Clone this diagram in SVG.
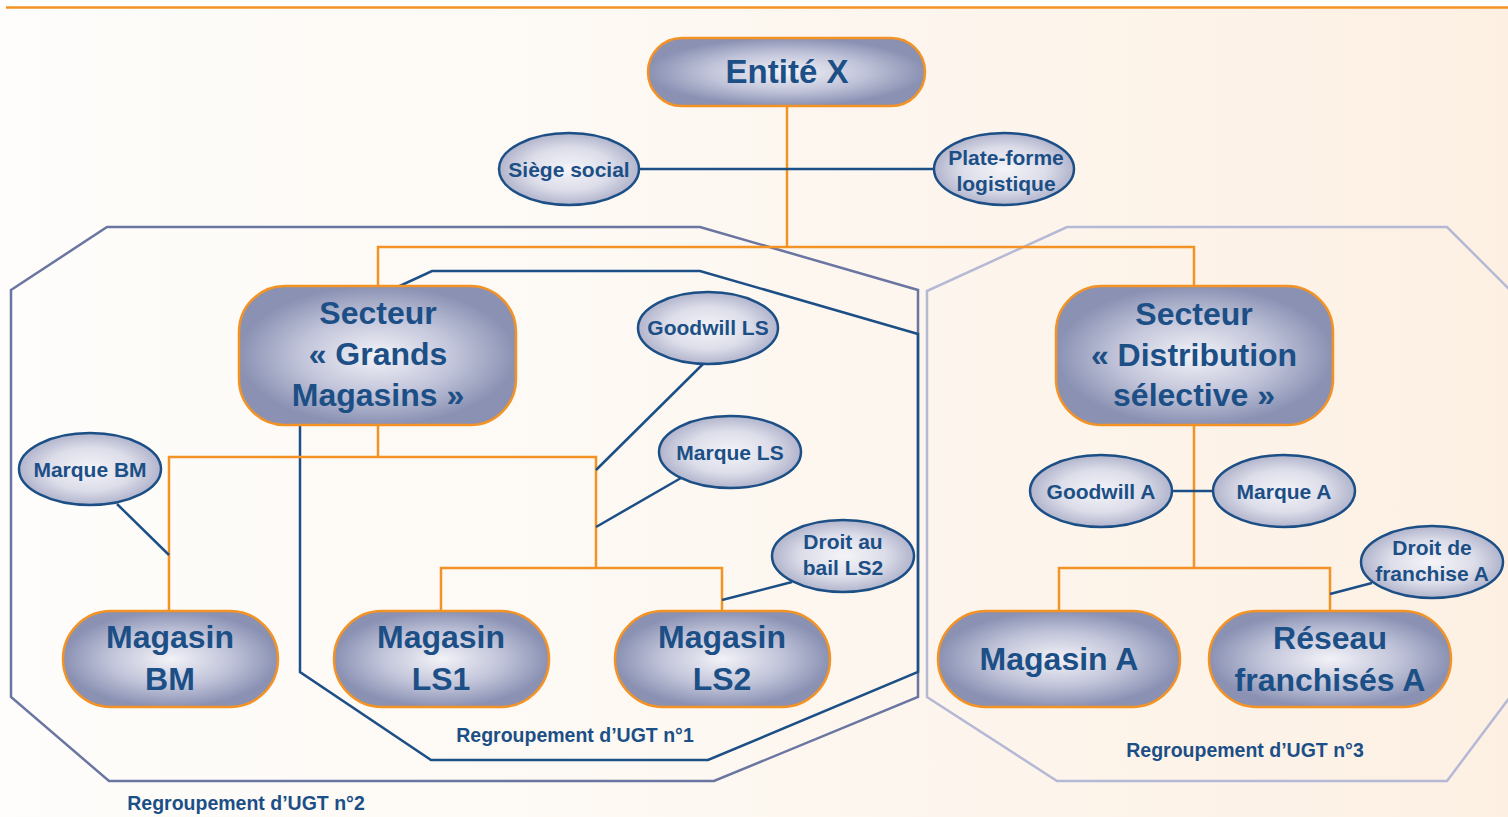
<svg xmlns="http://www.w3.org/2000/svg" width="1508" height="817" viewBox="0 0 1508 817">
<defs>
<linearGradient id="bg" x1="0" y1="0" x2="1" y2="0">
<stop offset="0" stop-color="#fefdfb"/>
<stop offset="0.45" stop-color="#fdf8f2"/>
<stop offset="1" stop-color="#fdf0e3"/>
</linearGradient>
<radialGradient id="gNode" cx="0.5" cy="0.5" r="0.5">
<stop offset="0" stop-color="#f2f2f7"/>
<stop offset="0.55" stop-color="#c2c5da"/>
<stop offset="1" stop-color="#8a91b3"/>
</radialGradient>
<radialGradient id="gEll" cx="0.5" cy="0.5" r="0.5">
<stop offset="0" stop-color="#f4f4f8"/>
<stop offset="0.6" stop-color="#dcdde9"/>
<stop offset="1" stop-color="#b1b4cc"/>
</radialGradient>
<style>
.node{fill:url(#gNode);stroke:#f39325;stroke-width:2.5}
.ell{fill:url(#gEll);stroke:#1c4f86;stroke-width:2.5}
.or{fill:none;stroke:#f39325;stroke-width:2.5}
.bl{fill:none;stroke:#1c4f86;stroke-width:2.5}
text{font-family:"Liberation Sans",Arial,sans-serif;font-weight:bold;fill:#1c4f86;text-anchor:middle}
.big{font-size:32px}
.sm{font-size:21px}
.lab{font-size:19.5px}
</style>
</defs>
<rect x="0" y="0" width="1508" height="817" fill="#ffffff"/>
<rect x="0" y="8" width="1508" height="809" fill="url(#bg)"/>
<line x1="6" y1="7.5" x2="1508" y2="7.5" stroke="#f39325" stroke-width="2.5"/>

<g id="groups">
<polygon id="ugt2" points="11,290 107,227 700,227 918,290 918,697 714,781 109,781 11,697" fill="none" stroke="#6a76a1" stroke-width="2.5"/>
<polygon id="ugt3" points="927,291 1067,227 1447,227 1510,290 1510,697 1447,781 1057,781 927,697" fill="none" stroke="#b5b9d5" stroke-width="2.5"/>
<polygon id="ugt1" points="300,332 432,271 700,271 918,334 918,672 708,760 431,760 300,672" fill="none" stroke="#1c4f86" stroke-width="2.5"/>
</g>

<g id="connectors">
<polyline class="or" points="787,106 787,247"/>
<polyline class="or" points="378,286 378,247 1194,247 1194,286"/>
<line class="bl" x1="638" y1="169" x2="934" y2="169"/>
<polyline class="or" points="378,425 378,457"/>
<polyline class="or" points="169,611 169,457 596,457 596,568"/>
<polyline class="or" points="441,611 441,568 722,568 722,611"/>
<polyline class="or" points="1194,425 1194,568"/>
<polyline class="or" points="1059,611 1059,568 1330,568 1330,611"/>
<line class="bl" x1="117" y1="504" x2="169" y2="555"/>
<line class="bl" x1="703" y1="364" x2="596" y2="470"/>
<line class="bl" x1="681" y1="478" x2="596" y2="527"/>
<line class="bl" x1="792" y1="582" x2="722" y2="600"/>
<line class="bl" x1="1172" y1="491" x2="1213" y2="491"/>
<line class="bl" x1="1372" y1="583" x2="1330" y2="594"/>
</g>

<g id="entite-x">
<rect class="node" x="648" y="38" width="277" height="68" rx="34"/>
<text class="big" x="787" y="83" style="font-size:33px">Entité X</text>
</g>
<g id="siege-social">
<ellipse class="ell" cx="569" cy="169" rx="70" ry="36"/>
<text class="sm" x="569" y="177">Siège social</text>
</g>
<g id="plate-forme">
<ellipse class="ell" cx="1004" cy="169" rx="70" ry="36"/>
<text class="sm" x="1006" y="165">Plate-forme</text>
<text class="sm" x="1006" y="191">logistique</text>
</g>
<g id="secteur-gm">
<rect class="node" x="239" y="286" width="277" height="139" rx="46"/>
<text class="big" x="378" y="324">Secteur</text>
<text class="big" x="378" y="365">« Grands</text>
<text class="big" x="378" y="406">Magasins »</text>
</g>
<g id="secteur-ds">
<rect class="node" x="1056" y="286" width="277" height="139" rx="46"/>
<text class="big" x="1194" y="325">Secteur</text>
<text class="big" x="1194" y="366">« Distribution</text>
<text class="big" x="1194" y="406">sélective »</text>
</g>
<g id="goodwill-ls">
<ellipse class="ell" cx="708" cy="328" rx="70" ry="36"/>
<text class="sm" x="708" y="335">Goodwill LS</text>
</g>
<g id="marque-ls">
<ellipse class="ell" cx="730" cy="452" rx="71" ry="36"/>
<text class="sm" x="730" y="460">Marque LS</text>
</g>
<g id="droit-bail-ls2">
<ellipse class="ell" cx="843" cy="556" rx="71" ry="36"/>
<text class="sm" x="843" y="549">Droit au</text>
<text class="sm" x="843" y="575">bail LS2</text>
</g>
<g id="marque-bm">
<ellipse class="ell" cx="90" cy="469" rx="71" ry="36"/>
<text class="sm" x="90" y="477">Marque BM</text>
</g>
<g id="goodwill-a">
<ellipse class="ell" cx="1101" cy="491" rx="71" ry="36"/>
<text class="sm" x="1101" y="499">Goodwill A</text>
</g>
<g id="marque-a">
<ellipse class="ell" cx="1284" cy="491" rx="71" ry="36"/>
<text class="sm" x="1284" y="499">Marque A</text>
</g>
<g id="droit-franchise-a">
<ellipse class="ell" cx="1432" cy="562" rx="71" ry="36"/>
<text class="sm" x="1432" y="555">Droit de</text>
<text class="sm" x="1432" y="581">franchise A</text>
</g>
<g id="magasin-bm">
<rect class="node" x="63" y="611" width="215" height="96" rx="48"/>
<text class="big" x="170" y="648">Magasin</text>
<text class="big" x="170" y="690">BM</text>
</g>
<g id="magasin-ls1">
<rect class="node" x="334" y="611" width="215" height="96" rx="48"/>
<text class="big" x="441" y="648">Magasin</text>
<text class="big" x="441" y="690">LS1</text>
</g>
<g id="magasin-ls2">
<rect class="node" x="615" y="611" width="215" height="96" rx="48"/>
<text class="big" x="722" y="648">Magasin</text>
<text class="big" x="722" y="690">LS2</text>
</g>
<g id="magasin-a">
<rect class="node" x="938" y="611" width="242" height="96" rx="48"/>
<text class="big" x="1059" y="670">Magasin A</text>
</g>
<g id="reseau-franchises-a">
<rect class="node" x="1209" y="611" width="242" height="96" rx="48"/>
<text class="big" x="1330" y="649">Réseau</text>
<text class="big" x="1330" y="691">franchisés A</text>
</g>

<g id="labels">
<text class="lab" x="575" y="742">Regroupement d’UGT n°1</text>
<text class="lab" x="246" y="810">Regroupement d’UGT n°2</text>
<text class="lab" x="1245" y="757">Regroupement d’UGT n°3</text>
</g>
</svg>
